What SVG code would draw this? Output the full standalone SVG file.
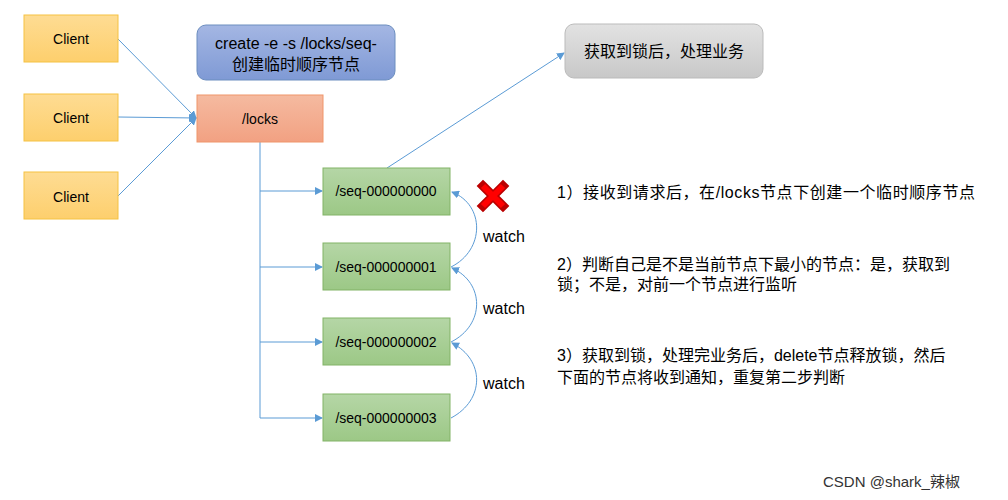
<svg xmlns="http://www.w3.org/2000/svg" width="1008" height="500" viewBox="0 0 1008 500">
<style>
text{font-family:"Liberation Sans","Noto Sans CJK SC",sans-serif;fill:#000}
.c{fill:url(#gy);stroke:#f5c242;stroke-width:1}
.s{fill:url(#gg);stroke:#82b366;stroke-width:1}
.l{stroke:#5b9bd5;stroke-width:1;fill:none}
</style>
<defs>
<linearGradient id="gy" x1="0" y1="0" x2="0" y2="1"><stop offset="0" stop-color="#fedc93"/><stop offset="1" stop-color="#fdcf6d"/></linearGradient>
<linearGradient id="gg" x1="0" y1="0" x2="0" y2="1"><stop offset="0" stop-color="#b5d6a6"/><stop offset="1" stop-color="#9cc886"/></linearGradient>
<linearGradient id="gb" x1="0" y1="0" x2="0" y2="1"><stop offset="0" stop-color="#a4b6e3"/><stop offset="1" stop-color="#7f9ad5"/></linearGradient>
<linearGradient id="go" x1="0" y1="0" x2="0" y2="1"><stop offset="0" stop-color="#f5baa0"/><stop offset="1" stop-color="#f2a182"/></linearGradient>
<linearGradient id="gr" x1="0" y1="0" x2="0" y2="1"><stop offset="0" stop-color="#e2e2e2"/><stop offset="1" stop-color="#c8c8c8"/></linearGradient>
<marker id="a" markerWidth="8" markerHeight="8" refX="7" refY="4" orient="auto" markerUnits="userSpaceOnUse"><path d="M0,0 L8,4 L0,8 z" fill="#5b9bd5"/></marker>
</defs>
<g id="connectors">
<line class="l" x1="118" y1="39" x2="196" y2="118" marker-end="url(#a)"/>
<line class="l" x1="118" y1="117" x2="196" y2="118" marker-end="url(#a)"/>
<line class="l" x1="118" y1="196" x2="196" y2="118" marker-end="url(#a)"/>
<path class="l" d="M260,142 V418"/>
<line class="l" x1="260" y1="191" x2="322" y2="191" marker-end="url(#a)"/>
<line class="l" x1="260" y1="267" x2="322" y2="267" marker-end="url(#a)"/>
<line class="l" x1="260" y1="342" x2="322" y2="342" marker-end="url(#a)"/>
<line class="l" x1="260" y1="418" x2="322" y2="418" marker-end="url(#a)"/>
<line class="l" x1="387" y1="168" x2="564" y2="53" marker-end="url(#a)"/>
<path class="l" d="M451,267 C485,250 485,205 452,192" marker-end="url(#a)"/>
<path class="l" d="M451,342 C485,325 485,283 452,268" marker-end="url(#a)"/>
<path class="l" d="M451,418 C485,400 485,360 452,343" marker-end="url(#a)"/>
</g>
<g id="client1"><rect class="c" x="24" y="15" width="94" height="47"/><text x="71" y="44" font-size="14" text-anchor="middle">Client</text></g>
<g id="client2"><rect class="c" x="24" y="94" width="94" height="47"/><text x="71" y="123" font-size="14" text-anchor="middle">Client</text></g>
<g id="client3"><rect class="c" x="24" y="172" width="94" height="47"/><text x="71" y="202" font-size="14" text-anchor="middle">Client</text></g>
<g id="create"><rect x="197" y="25" width="198" height="55" rx="9" fill="url(#gb)" stroke="#6c8ebf"/><text x="296" y="49" font-size="16" text-anchor="middle">create -e -s /locks/seq-</text><text x="296" y="70" font-size="16" text-anchor="middle">创建临时顺序节点</text></g>
<g id="locks"><rect x="197" y="95" width="126" height="47" fill="url(#go)" stroke="#f0956a"/><text x="260" y="124" font-size="14" text-anchor="middle">/locks</text></g>
<g id="seq0"><rect class="s" x="323" y="168" width="127" height="47"/><text x="386" y="196" font-size="14" text-anchor="middle">/seq-000000000</text></g>
<g id="seq1"><rect class="s" x="323" y="243" width="127" height="47"/><text x="386" y="272" font-size="14" text-anchor="middle">/seq-000000001</text></g>
<g id="seq2"><rect class="s" x="323" y="318" width="127" height="47"/><text x="386" y="347" font-size="14" text-anchor="middle">/seq-000000002</text></g>
<g id="seq3"><rect class="s" x="323" y="394" width="127" height="47"/><text x="386" y="423" font-size="14" text-anchor="middle">/seq-000000003</text></g>
<g id="result"><rect x="565" y="24" width="198" height="54" rx="9" fill="url(#gr)" stroke="#bbb"/><text x="664" y="57" font-size="16" text-anchor="middle">获取到锁后，处理业务</text></g>
<g id="cross"><path d="M483,186 L503,206 M503,186 L483,206" stroke="#b00" stroke-width="9" stroke-linecap="square"/><path d="M483,186 L503,206 M503,186 L483,206" stroke="#ff0000" stroke-width="6"/></g>
<g font-size="16">
<text x="483" y="242">watch</text>
<text x="483" y="314">watch</text>
<text x="483" y="389">watch</text>
<text x="557" y="198" textLength="418">1）接收到请求后，在/locks节点下创建一个临时顺序节点</text>
<text x="557" y="270">2）判断自己是不是当前节点下最小的节点：是，获取到</text>
<text x="557" y="290">锁；不是，对前一个节点进行监听</text>
<text x="557" y="361">3）获取到锁，处理完业务后，delete节点释放锁，然后</text>
<text x="557" y="383">下面的节点将收到通知，重复第二步判断</text>
</g>
<text x="823" y="487" font-size="15" style="fill:#333">CSDN @shark_辣椒</text>
</svg>
